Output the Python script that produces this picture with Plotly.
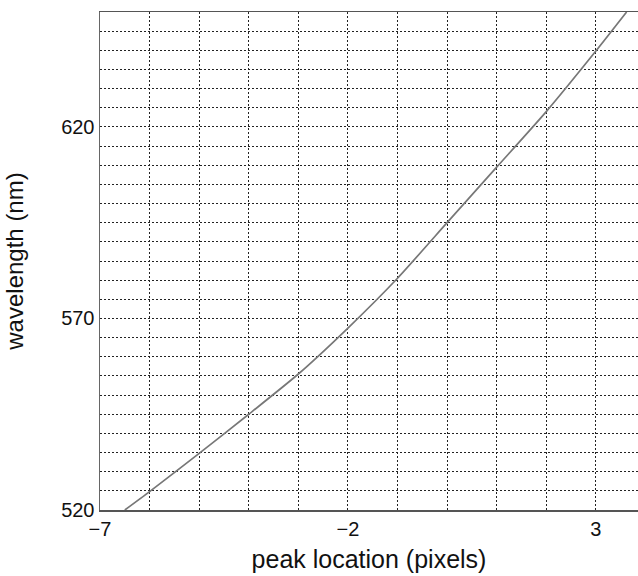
import plotly.graph_objects as go

# Data
peak_px = [-6.5, -6, -5, -4, -3, -2, -1, 0, 1, 2, 3, 3.62]
wavelength_nm = [520, 524.8, 534.8, 545, 555.5, 567.5, 580.5, 595, 609.5, 624, 639.8, 650]

x_grid_vals = list(range(-7, 4))
x_tick_labels = {-7: "−7", -2: "−2", 3: "3"}
y_grid_vals = list(range(520, 651, 5))
y_tick_labels = {520: "520", 570: "570", 620: "620"}

fig = go.Figure()
fig.add_trace(go.Scatter(
    x=peak_px, y=wavelength_nm, mode="lines",
    line=dict(color="#777777", width=1.7, shape="spline", smoothing=0.6),
    showlegend=False, hoverinfo="skip"))

font = "Liberation Sans, Arial, sans-serif"

fig.update_layout(
    width=638, height=576,
    margin=dict(l=100, r=0, t=12, b=66),
    paper_bgcolor="white", plot_bgcolor="white",
    font=dict(family=font, color="#111"),
    xaxis=dict(
        range=[-7, 3.85],
        tickvals=x_grid_vals,
        ticktext=[x_tick_labels.get(v, "") for v in x_grid_vals],
        showgrid=True, gridcolor="#222222", gridwidth=1, griddash="2px,2px",
        showline=True, linecolor="#555", linewidth=1.5, mirror=True,
        ticks="", tickfont=dict(size=20, family=font, color="#111"),
        title=dict(text="peak location (pixels)", font=dict(size=25, family=font, color="#111"), standoff=12),
        zeroline=False,
    ),
    yaxis=dict(
        range=[520, 650],
        tickvals=y_grid_vals,
        ticktext=[y_tick_labels.get(v, "") for v in y_grid_vals],
        showgrid=True, gridcolor="#222222", gridwidth=1, griddash="2px,2px",
        showline=True, linecolor="#666", linewidth=1.5,
        ticks="", tickfont=dict(size=20, family=font, color="#111"),
        title=dict(text="wavelength (nm)", font=dict(size=24, family=font, color="#111"), standoff=30),
        zeroline=False,
    ),
)

fig.write_html(
    "out.html",
    config={"displayModeBar": False, "staticPlot": True},
    post_script="document.body.style.margin='0';document.body.style.overflow='hidden';",
)
